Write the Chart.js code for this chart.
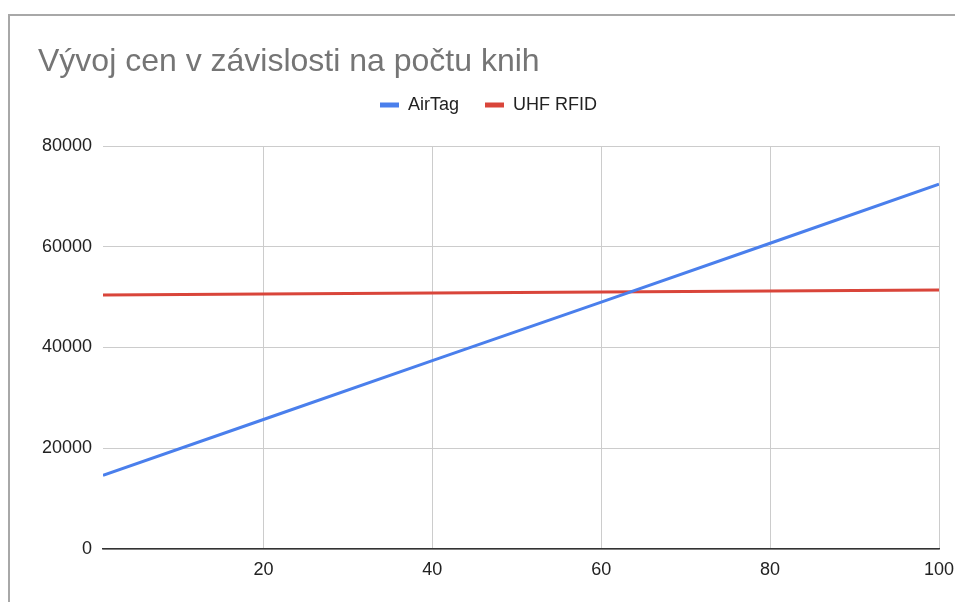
<!DOCTYPE html>
<html>
<head>
<meta charset="utf-8">
<script src="https://cdn.jsdelivr.net/npm/chart.js@4"></script>
<style>
html,body{margin:0;padding:0;background:#fff;}
#wrap{position:relative;width:955px;height:602px;overflow:hidden;}
#frame{position:absolute;left:8px;top:14px;right:-10px;bottom:-10px;border-top:2px solid #a8a8a8;border-left:2px solid #a8a8a8;pointer-events:none;}
canvas{position:absolute;left:0;top:0;}
</style>
</head>
<body>
<div id="wrap">
<canvas id="c" width="955" height="602"></canvas>
<div id="frame"></div>
</div>
<script>
const TITLE='Vývoj cen v závislosti na počtu knih';
const BOOKS=[1,20,40,60,80,100];
const AIRTAG=[14600,25700,37400,49000,60700,72400];
const UHF_RFID=[50400,50600,50800,51000,51200,51400];
const X_TICKS=[20,40,60,80,100];
const Y_TICKS=[0,20000,40000,60000,80000];

const FONT='"Liberation Sans", Arial, sans-serif';

// extra room under the legend so the plot starts lower
const legendSpacer={
  id:'legendSpacer',
  beforeInit(chart){
    const origFit=chart.legend.fit;
    chart.legend.fit=function(){
      origFit.bind(chart.legend)();
      this.height+=22;
    };
  }
};

new Chart(document.getElementById('c').getContext('2d'),{
  type:'line',
  data:{
    datasets:[
      {label:'AirTag',data:BOOKS.map((b,i)=>({x:b,y:AIRTAG[i]})),borderColor:'#4a7fec',backgroundColor:'#4a7fec',borderWidth:3,pointRadius:0,tension:0},
      {label:'UHF RFID',data:BOOKS.map((b,i)=>({x:b,y:UHF_RFID[i]})),borderColor:'#d9453a',backgroundColor:'#d9453a',borderWidth:3,pointRadius:0,tension:0}
    ]
  },
  options:{
    responsive:false,
    animation:false,
    layout:{padding:{left:38,right:16,top:0,bottom:0}},
    plugins:{
      title:{display:true,text:TITLE,align:'start',color:'#757575',font:{family:FONT,size:32,weight:'normal',lineHeight:1},padding:{top:46,bottom:-8}},
      legend:{
        display:true,
        labels:{
          color:'#222',font:{family:FONT,size:18},boxWidth:19,boxHeight:5,padding:26,
          generateLabels(chart){
            const items=Chart.defaults.plugins.legend.labels.generateLabels(chart);
            items.forEach(it=>{it.lineWidth=0;});
            return items;
          }
        }
      },
      tooltip:{enabled:false}
    },
    scales:{
      x:{
        type:'linear',min:1,max:100,
        afterBuildTicks(scale){scale.ticks=X_TICKS.map(v=>({value:v}));},
        afterFit(scale){scale.height=53;scale.paddingRight=0;scale.paddingLeft=0;},
        ticks:{color:'#222',font:{family:FONT,size:18},padding:10,maxRotation:0},
        grid:{color:'#cccccc',lineWidth:1,drawTicks:false},
        border:{display:true,color:'#333',width:1.5}
      },
      y:{
        min:0,max:80000,
        afterBuildTicks(scale){scale.ticks=Y_TICKS.map(v=>({value:v}));},
        afterFit(scale){scale.width=65;},
        ticks:{color:'#222',font:{family:FONT,size:18},padding:11,callback:v=>String(v)},
        grid:{color:'#cccccc',lineWidth:1,drawTicks:false},
        border:{display:false}
      }
    }
  },
  plugins:[legendSpacer]
});
</script>
</body>
</html>
